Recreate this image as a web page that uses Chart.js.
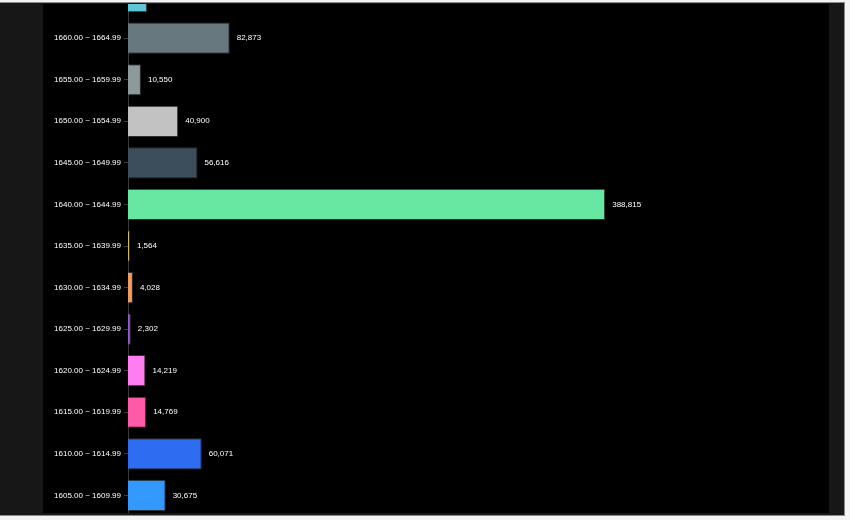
<!DOCTYPE html>
<html>
<head>
<meta charset="utf-8">
<script src="https://cdn.jsdelivr.net/npm/chart.js@4/dist/chart.umd.min.js"></script>
<style>
  html, body { margin: 0; padding: 0; background: #f4f4f4; }
  #frame {
    position: absolute; left: 0; top: 2px; width: 844px; height: 512px;
    background: #171717; border-right: 1px solid #8a8a8a; border-bottom: 1px solid #8a8a8a; border-top: 1px solid #8a8a8a;
  }
  #panel {
    position: absolute; left: 43px; top: 1px; width: 786px; height: 509px;
    background: #000; overflow: hidden;
  }
  #wrap { position: absolute; left: 0; top: -36px; width: 786px; height: 556px; }
</style>
</head>
<body>
<div id="frame">
  <div id="panel">
    <div id="wrap"><canvas id="priceChart"></canvas></div>
  </div>
</div>
<script>
// price ranges, top to bottom
const ranges = [
  '1665.00 ~ 1669.99', '1660.00 ~ 1664.99', '1655.00 ~ 1659.99', '1650.00 ~ 1654.99',
  '1645.00 ~ 1649.99', '1640.00 ~ 1644.99', '1635.00 ~ 1639.99', '1630.00 ~ 1634.99',
  '1625.00 ~ 1629.99', '1620.00 ~ 1624.99', '1615.00 ~ 1619.99', '1610.00 ~ 1614.99',
  '1605.00 ~ 1609.99'
];
const volumes = [15600, 82873, 10550, 40900, 56616, 388815, 1564, 4028, 2302, 14219, 14769, 60071, 30675];
const barColors = [
  '#5ec6d6', '#68787f', '#8d999b', '#c2c2c2', '#3c4d5b', '#66e8a2', '#d9c070',
  '#f39b5a', '#9a5bd8', '#ff7df0', '#ff5ba8', '#2f6df0', '#3399ff'
];

const FONT = "'Liberation Sans', Arial, sans-serif";

// draws the volume number right of each bar
const valueLabels = {
  id: 'valueLabels',
  afterDatasetsDraw(chart) {
    const ctx = chart.ctx;
    ctx.save();
    ctx.fillStyle = '#ffffff';
    ctx.font = '8px ' + FONT;
    ctx.textBaseline = 'middle';
    chart.getDatasetMeta(0).data.forEach((bar, i) => {
      ctx.fillText(volumes[i].toLocaleString('en-US'), bar.x + 7, bar.y);
    });
    ctx.restore();
  }
};

const ctx = document.getElementById('priceChart').getContext('2d');
new Chart(ctx, {
  type: 'bar',
  data: {
    labels: ranges,
    datasets: [{
      data: volumes,
      backgroundColor: barColors,
      borderColor: 'rgba(255,255,255,0.18)',
      borderWidth: 1,
      barPercentage: 0.75,
      categoryPercentage: 1
    }]
  },
  options: {
    indexAxis: 'y',
    responsive: true,
    maintainAspectRatio: false,
    animation: false,
    layout: { padding: { left: 0, right: 26, top: 0, bottom: 0 } },
    plugins: { legend: { display: false }, tooltip: { enabled: false } },
    scales: {
      x: { display: false, min: 0, max: 550000 },
      y: {
        afterFit: (scale) => { scale.width = 85; },
        border: { color: '#3a3a3a' },
        grid: { drawOnChartArea: false, offset: false, color: '#3a3a3a', tickLength: 4 },
        ticks: { color: '#ffffff', padding: 3, font: { size: 8, family: FONT } }
      }
    }
  },
  plugins: [valueLabels]
});
</script>
</body>
</html>
